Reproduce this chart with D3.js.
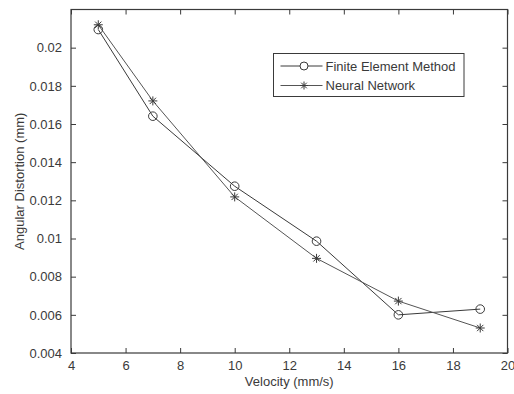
<!DOCTYPE html>
<html>
<head>
<meta charset="utf-8">
<script src="https://cdn.jsdelivr.net/npm/d3@7"></script>
<style>
  body { margin: 0; background: #fff; }
  svg { display: block; font-family: "Liberation Sans", Arial, sans-serif; }
</style>
</head>
<body>
<div id="chart"></div>
<script>
// data
const velocity = [5, 7, 10, 13, 16, 19];
const femValues = [0.02095, 0.01641, 0.01274, 0.00986, 0.00600, 0.00630];
const nnValues = [0.02120, 0.01721, 0.01218, 0.00896, 0.00672, 0.00531];
const seriesNames = ["Finite Element Method", "Neural Network"];
const xTicks = [4, 6, 8, 10, 12, 14, 16, 18, 20];
const yTicks = [0.004, 0.006, 0.008, 0.01, 0.012, 0.014, 0.016, 0.018, 0.02];

const W = 514, H = 394;
const margin = {top: 9.5, right: 6.5, bottom: 41, left: 71};
const width = W - margin.left - margin.right;
const height = H - margin.top - margin.bottom;
const ink = "#3a3a3a";

const svg = d3.select("#chart").append("svg")
    .attr("width", W)
    .attr("height", H);

const g = svg.append("g")
    .attr("transform", "translate(" + margin.left + "," + margin.top + ")");

const x = d3.scaleLinear().domain([4, 20]).range([0, width]);
const y = d3.scaleLinear().domain([0.004, 0.022]).range([height, 0]);

// MATLAB style box with inward ticks on all sides
const fmtY = d => d3.format("")(+d.toFixed(3));
const bottomAxis = d3.axisBottom(x).tickValues(xTicks).tickSizeInner(-5).tickSizeOuter(0).tickPadding(8);
const topAxis = d3.axisTop(x).tickValues(xTicks).tickSizeInner(-5).tickSizeOuter(0).tickFormat("");
const leftAxis = d3.axisLeft(y).tickValues(yTicks).tickSizeInner(-5).tickSizeOuter(0).tickPadding(9).tickFormat(fmtY);
const rightAxis = d3.axisRight(y).tickValues(yTicks).tickSizeInner(-5).tickSizeOuter(0).tickFormat("");

g.append("g").attr("class", "axis").attr("transform", "translate(0," + height + ")").call(bottomAxis);
g.append("g").attr("class", "axis").call(topAxis);
g.append("g").attr("class", "axis").call(leftAxis);
g.append("g").attr("class", "axis").attr("transform", "translate(" + width + ",0)").call(rightAxis);

g.selectAll(".axis path").remove();
g.selectAll(".axis line").attr("stroke", ink).attr("stroke-width", 1);
g.selectAll(".axis text")
    .attr("fill", ink)
    .style("font-size", "13px")
    .style("font-family", "'Liberation Sans', Arial, sans-serif");

g.append("rect")
    .attr("width", width)
    .attr("height", height)
    .attr("fill", "none")
    .attr("stroke", ink)
    .attr("stroke-width", 1.2);

// axis labels
svg.append("text")
    .attr("x", margin.left + width / 2)
    .attr("y", 386)
    .attr("text-anchor", "middle")
    .attr("fill", ink)
    .style("font-size", "13px")
    .text("Velocity (mm/s)");

svg.append("text")
    .attr("transform", "translate(24," + (margin.top + height / 2) + ") rotate(-90)")
    .attr("text-anchor", "middle")
    .attr("fill", ink)
    .style("font-size", "13px")
    .text("Angular Distortion (mm)");

const line = d3.line()
    .x(d => x(d[0]))
    .y(d => y(d[1]));

const fem = velocity.map((v, i) => [v, femValues[i]]);
const nn = velocity.map((v, i) => [v, nnValues[i]]);

function star(sel, cx, cy, r) {
    const s = sel.append("g").attr("transform", "translate(" + cx + "," + cy + ")");
    [[-r, 0, r, 0], [0, -r, 0, r], [-r * .7, -r * .7, r * .7, r * .7], [-r * .7, r * .7, r * .7, -r * .7]]
        .forEach(l => s.append("line")
            .attr("x1", l[0]).attr("y1", l[1]).attr("x2", l[2]).attr("y2", l[3])
            .attr("stroke", ink).attr("stroke-width", 1));
}

g.append("path").datum(fem).attr("d", line)
    .attr("fill", "none").attr("stroke", ink).attr("stroke-width", 1);
g.append("path").datum(nn).attr("d", line)
    .attr("fill", "none").attr("stroke", "#555").attr("stroke-width", 1);

g.selectAll("circle.fem").data(fem).enter().append("circle")
    .attr("class", "fem")
    .attr("cx", d => x(d[0]))
    .attr("cy", d => y(d[1]))
    .attr("r", 4.3)
    .attr("fill", "none")
    .attr("stroke", ink)
    .attr("stroke-width", 1);

nn.forEach(d => star(g, x(d[0]), y(d[1]), 4.5));

// legend
const leg = svg.append("g").attr("transform", "translate(273.5,53.5)");
leg.append("rect")
    .attr("width", 190.5)
    .attr("height", 43)
    .attr("fill", "#fff")
    .attr("stroke", ink)
    .attr("stroke-width", 1);

seriesNames.forEach((name, i) => {
    const yy = 12.5 + i * 19.5;
    leg.append("line")
        .attr("x1", 7).attr("x2", 49)
        .attr("y1", yy).attr("y2", yy)
        .attr("stroke", i === 0 ? ink : "#555");
    if (i === 0) {
        leg.append("circle").attr("cx", 30.5).attr("cy", yy).attr("r", 4)
            .attr("fill", "#fff").attr("stroke", ink);
    } else {
        star(leg, 30.5, yy, 4);
    }
    leg.append("text")
        .attr("x", 52)
        .attr("y", yy)
        .attr("dy", "0.35em")
        .attr("fill", ink)
        .style("font-size", "13px")
        .text(name);
});
</script>
</body>
</html>
